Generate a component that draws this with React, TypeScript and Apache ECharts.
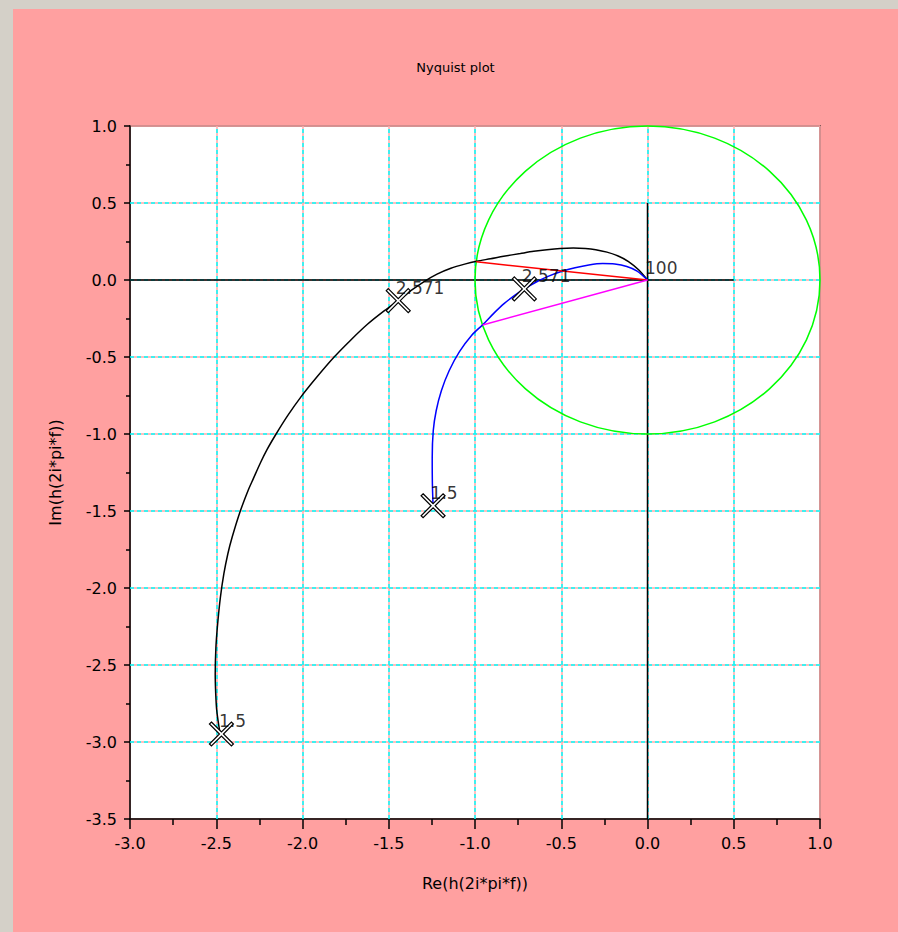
import React, { useEffect, useRef } from "react";
import * as echarts from "echarts";

// ---- data ----
// black curve, from f = 1.5 (start) to f = 100 (origin)
const blackRe = [
  -2.48, -2.497, -2.503, -2.506, -2.502, -2.492, -2.476, -2.456, -2.433, -2.408, -2.362, -2.316,
  -2.285, -2.243, -2.205, -2.153, -2.086, -2.011, -1.918, -1.818, -1.724, -1.622, -1.525, -1.445,
  -1.37, -1.295, -1.22, -1.14, -1.06, -0.99, -0.91, -0.834, -0.737, -0.66, -0.583, -0.506,
  -0.43, -0.36, -0.3, -0.235, -0.17, -0.11, -0.05, 0,
];
const blackIm = [
  -2.93, -2.797, -2.688, -2.558, -2.386, -2.234, -2.061, -1.909, -1.779, -1.671, -1.505, -1.368,
  -1.29, -1.185, -1.1, -1.0, -0.881, -0.762, -0.632, -0.502, -0.394, -0.286, -0.199, -0.134,
  -0.068, -0.01, 0.038, 0.076, 0.103, 0.122, 0.138, 0.154, 0.172, 0.186, 0.197, 0.205,
  0.208, 0.205, 0.197, 0.181, 0.156, 0.12, 0.065, 0,
];
// blue curve, from f = 1.5 (start) to f = 100 (origin)
const blueRe = [
  -1.243, -1.247, -1.248, -1.242, -1.225, -1.195, -1.15, -1.09, -1.02, -0.955, -0.89, -0.83,
  -0.77, -0.714, -0.65, -0.58, -0.5, -0.42, -0.34, -0.26, -0.19, -0.12, -0.06, 0,
];
const blueIm = [
  -1.466, -1.325, -1.152, -0.979, -0.849, -0.719, -0.589, -0.465, -0.36, -0.29, -0.215, -0.152,
  -0.1, -0.058, -0.016, 0.022, 0.055, 0.08, 0.098, 0.107, 0.104, 0.088, 0.058, 0,
];
// margin lines from origin to the unit circle
const redLine = [[0, 0], [-0.993, 0.118]];
const magentaLine = [[0, 0], [-0.956, -0.292]];
// axis cross lines drawn inside the plot
const hAxisLine = [[-3, 0], [0.5, 0]];
const vAxisLine = [[0, 0.5], [0, -3.5]];
// unit circle
const circleCenter = [0, 0];
const circleRadius = 1;
// grid line positions (dashed cyan overlay)
const gridXs = [-2.5, -2, -1.5, -1, -0.5, 0, 0.5];
const gridYs = [0.5, 0, -0.5, -1, -1.5, -2, -2.5, -3];
// frequency markers
const markerRe = [-2.47, -1.445, -1.243, -0.714];
const markerIm = [-2.948, -0.134, -1.466, -0.058];
const labelRe = [-2.47, -1.445, -1.243, -0.714, 0];
const labelIm = [-2.948, -0.134, -1.466, -0.058, 0];
const labelText = ["1.5", "2.571", "1.5", "2.571", "100"];

const FONT = "DejaVu Sans";
const X_SYMBOL =
  "path://M2,0 L12,10 L22,0 L24,2 L14,12 L24,22 L22,24 L12,14 L2,24 L0,22 L10,12 L0,2 Z";

function zip(a: number[], b: number[]) {
  return a.map((v, i) => [v, b[i]]);
}

export default function App() {
  const ref = useRef<HTMLDivElement>(null);
  useEffect(() => {
    document.body.style.margin = "0";
    const chart = echarts.init(ref.current!, null, { renderer: "svg" });
    const fmt = (v: number) => v.toFixed(1);
    const commonAxis = (min: number, max: number, tickLen: number, minorLen: number) => ({
      type: "value",
      min,
      max,
      interval: 0.5,
      axisLine: { show: true, onZero: false, lineStyle: { color: "#000", width: 1.5 } },
      axisTick: { show: true, length: tickLen, lineStyle: { color: "#000", width: 1.5 } },
      minorTick: { show: true, splitNumber: 2, length: minorLen, lineStyle: { color: "#000", width: 1.5 } },
      splitLine: { show: true, lineStyle: { color: "#ffa8a8", width: 1.5 } },
      nameTextStyle: { color: "#000", fontSize: 16, fontFamily: FONT },
    });
    chart.setOption({
      animation: false,
      backgroundColor: "#ffa0a0",
      title: {
        text: "Nyquist plot",
        left: "center",
        top: 47,
        textStyle: { color: "#000", fontSize: 13, fontWeight: "normal", fontFamily: FONT },
      },
      grid: {
        left: 117,
        right: 78,
        top: 117,
        bottom: 113,
        show: true,
        backgroundColor: "#ffffff",
        borderColor: "#222",
        borderWidth: 1.5,
      },
      xAxis: {
        ...commonAxis(-3, 1, 10, 6),
        position: "bottom",
        name: "Re(h(2i*pi*f))",
        nameLocation: "middle",
        nameGap: 56,
        axisLabel: { color: "#000", fontSize: 16, fontFamily: FONT, formatter: fmt, margin: 16 },
      },
      yAxis: {
        ...commonAxis(-3.5, 1, 6, 4),
        position: "left",
        name: "Im(h(2i*pi*f))",
        nameLocation: "middle",
        nameGap: 67,
        axisLabel: { color: "#000", fontSize: 16, fontFamily: FONT, formatter: fmt, margin: 13 },
      },
      series: [
        {
          type: "line",
          data: [],
          z: 1,
          markLine: {
            silent: true,
            z: 1,
            symbol: "none",
            label: { show: false },
            animation: false,
            lineStyle: { color: "#00ffff", width: 1.5, type: [4, 3], opacity: 1 },
            data: [
              ...gridXs.map((v) => ({ xAxis: v })),
              ...gridYs.map((v) => ({ yAxis: v })),
            ],
          },
        },
        {
          type: "line",
          data: hAxisLine,
          symbol: "none",
          z: 6,
          lineStyle: { color: "#000", width: 1.5 },
        },
        {
          type: "line",
          data: vAxisLine,
          symbol: "none",
          z: 6,
          lineStyle: { color: "#000", width: 1.5 },
        },
        {
          type: "custom",
          z: 7,
          data: [circleCenter],
          renderItem: (_params: any, api: any) => {
            const c = api.coord([circleCenter[0], circleCenter[1]]);
            const e = api.coord([circleCenter[0] + circleRadius, circleCenter[1] + circleRadius]);
            return {
              type: "ellipse",
              shape: { cx: c[0], cy: c[1], rx: e[0] - c[0], ry: c[1] - e[1] },
              style: { fill: "none", stroke: "#00ff00", lineWidth: 1.5 },
            };
          },
        },
        {
          type: "line",
          data: zip(blackRe, blackIm),
          symbol: "none",
          smooth: 0.3,
          z: 8,
          lineStyle: { color: "#000", width: 1.5 },
        },
        {
          type: "line",
          data: zip(blueRe, blueIm),
          symbol: "none",
          smooth: 0.3,
          z: 8,
          lineStyle: { color: "#0000ff", width: 1.5 },
        },
        {
          type: "line",
          data: redLine,
          symbol: "none",
          z: 9,
          lineStyle: { color: "#ff0000", width: 1.5 },
        },
        {
          type: "line",
          data: magentaLine,
          symbol: "none",
          z: 9,
          lineStyle: { color: "#ff00ff", width: 1.5 },
        },
        {
          type: "scatter",
          data: zip(markerRe, markerIm),
          symbol: X_SYMBOL,
          symbolSize: 24,
          z: 10,
          itemStyle: { color: "#ffffff", borderColor: "#000", borderWidth: 1.2, opacity: 1 },
        },
        {
          type: "scatter",
          data: labelRe.map((v, i) => [v, labelIm[i], labelText[i]]),
          symbolSize: 1,
          z: 11,
          itemStyle: { color: "rgba(0,0,0,0)" },
          label: {
            show: true,
            position: [-2, -12],
            align: "left",
            verticalAlign: "middle",
            color: "#000",
            fontSize: 17,
            fontFamily: FONT,
            formatter: (p: any) => p.data[2],
          },
        },
      ],
    });
    return () => chart.dispose();
  }, []);
  return (
    <div style={{ width: 898, height: 932, background: "#d4d0c8", position: "relative", overflow: "hidden" }}>
      <div ref={ref} style={{ position: "absolute", left: 13, top: 9, width: 885, height: 923 }} />
    </div>
  );
}
